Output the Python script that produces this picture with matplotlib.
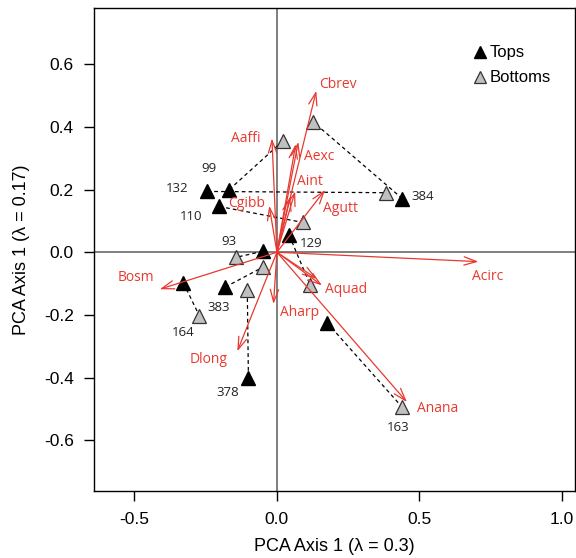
import matplotlib
matplotlib.use("Agg")
import matplotlib.pyplot as plt

plt.rcParams["axes.unicode_minus"] = False
plt.rcParams["font.family"] = ["Liberation Sans", "DejaVu Sans"]

# sample scores: tops and their paired bottoms
tops_x = [-0.244, -0.167, -0.202, 0.44, 0.043, -0.05, -0.328, -0.181, -0.10, 0.176]
tops_y = [0.194, 0.20, 0.146, 0.171, 0.054, 0.003, -0.098, -0.111, -0.40, -0.225]
bots_x = [0.383, 0.022, 0.092, 0.127, 0.117, -0.142, -0.272, -0.05, -0.104, 0.44]
bots_y = [0.19, 0.356, 0.095, 0.416, -0.105, -0.016, -0.203, -0.048, -0.12, -0.495]

sample_ids = ["132", "99", "110", "384", "129", "93", "164", "383", "378", "163"]
sample_lab_x = [-0.349, -0.237, -0.30, 0.512, 0.12, -0.167, -0.328, -0.206, -0.174, 0.424]
sample_lab_y = [0.205, 0.266, 0.113, 0.179, 0.027, 0.035, -0.256, -0.175, -0.449, -0.558]

# species loadings (arrows from origin)
species = ["Cbrev", "Aaffi", "Aexc", "", "Aint", "", "Cgibb", "Agutt",
           "Acirc", "Aquad", "", "Aharp", "Anana", "Dlong", "Bosm"]
load_x = [0.138, -0.0175, 0.075, 0.066, 0.064, 0.047, -0.027, 0.169,
          0.707, 0.158, 0.14, -0.012, 0.456, -0.139, -0.411]
load_y = [0.515, 0.363, 0.352, 0.345, 0.194, 0.178, 0.148, 0.199,
          -0.03, -0.106, -0.085, -0.165, -0.478, -0.316, -0.118]
spec_lab_x = [0.215, -0.108, 0.148, None, 0.117, None, -0.108, 0.222,
              0.738, 0.242, None, 0.078, 0.562, -0.24, -0.493]
spec_lab_y = [0.535, 0.363, 0.306, None, 0.227, None, 0.157, 0.139,
              -0.076, -0.118, None, -0.193, -0.498, -0.341, -0.081]

RED = "#e8392f"

fig = plt.figure(figsize=(5.76, 5.58), dpi=100)
ax = fig.add_axes([0.164, 0.12, 0.834, 0.866])

ax.axhline(0, color="#6a6a6a", lw=1.2, zorder=1)
ax.axvline(0, color="#6a6a6a", lw=1.2, zorder=1)

for x0, y0, x1, y1 in zip(tops_x, tops_y, bots_x, bots_y):
    ax.plot([x0, x1], [y0, y1], ls=(0, (3, 2.5)), color="black", lw=0.9, zorder=2)

ax.plot(bots_x, bots_y, "^", ms=10, mfc="#c0c0c0", mec="#333333", mew=0.9,
        ls="none", zorder=3, label="Bottoms")
ax.plot(tops_x, tops_y, "^", ms=10, mfc="black", mec="black",
        ls="none", zorder=3, label="Tops")

for lab, lx, ly in zip(sample_ids, sample_lab_x, sample_lab_y):
    ax.text(lx, ly, lab, ha="center", va="center", fontsize=9.5,
            family=["Open Sans", "DejaVu Sans"], color="#222222", zorder=5)

for name, x, y, tx, ty in zip(species, load_x, load_y, spec_lab_x, spec_lab_y):
    ax.annotate("", xy=(x, y), xytext=(0, 0),
                arrowprops=dict(arrowstyle="->,head_length=0.9,head_width=0.3",
                                color=RED, lw=0.9, shrinkA=0, shrinkB=0),
                zorder=4)
    if name:
        ax.text(tx, ty, name, ha="center", va="center", fontsize=10,
                family=["Open Sans", "DejaVu Sans"], color=RED, zorder=5)

ax.set_xlim(-0.64, 1.045)
ax.set_ylim(-0.762, 0.78)
ax.set_xticks([-0.5, 0.0, 0.5, 1.0])
ax.set_xticklabels(["-0.5", "0.0", "0.5", "1.0"])
ax.set_yticks([-0.6, -0.4, -0.2, 0.0, 0.2, 0.4, 0.6])
ax.set_yticklabels(["-0.6", "-0.4", "-0.2", "0.0", "0.2", "0.4", "0.6"])
ax.tick_params(direction="out", length=7, width=1, labelsize=12.5, pad=8)
for s in ax.spines.values():
    s.set_linewidth(1)

ax.set_xlabel("PCA Axis 1 (\u03bb = 0.3)", fontsize=13, labelpad=8)
ax.set_ylabel("PCA Axis 1 (\u03bb = 0.17)", fontsize=13, labelpad=10)

h, l = ax.get_legend_handles_labels()
ax.legend(h[::-1], l[::-1], loc="upper left", bbox_to_anchor=(0.772, 0.936),
          frameon=False, fontsize=12, handletextpad=0.05, handlelength=1.0,
          markerscale=0.85, borderaxespad=0.0, labelspacing=0.6)

fig.savefig("out.png", dpi=100)
